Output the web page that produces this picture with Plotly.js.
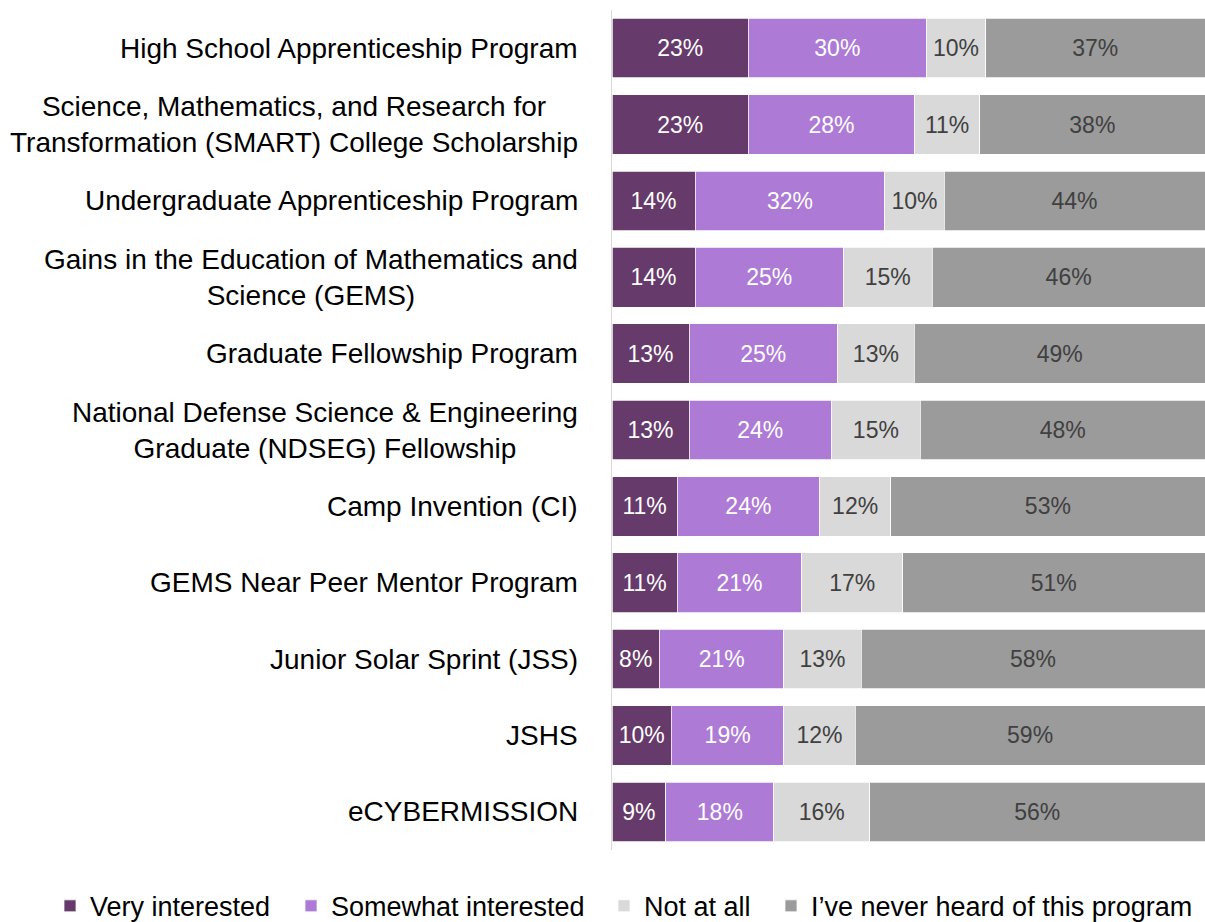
<!DOCTYPE html>
<html>
<head>
<meta charset="utf-8">
<script src="https://cdn.plot.ly/plotly-3.0.1.min.js"></script>
<style>html,body{margin:0;padding:0;background:#fff;}#chart{width:1205px;height:922px;}</style>
</head>
<body>
<div id="chart"></div>
<script>
const categories = [
  "High School Apprenticeship Program",
  "Science, Mathematics, and Research for<br>Transformation (SMART) College Scholarship",
  "Undergraduate Apprenticeship Program",
  "Gains in the Education of Mathematics and<br>Science (GEMS)",
  "Graduate Fellowship Program",
  "National Defense Science & Engineering<br>Graduate (NDSEG) Fellowship",
  "Camp Invention (CI)",
  "GEMS Near Peer Mentor Program",
  "Junior Solar Sprint (JSS)",
  "JSHS",
  "eCYBERMISSION"
];
const seriesNames = ["Very interested", "Somewhat interested", "Not at all", "I\u2019ve never heard of this program"];
const veryInterested     = [23, 23, 14, 14, 13, 13, 11, 11,  8, 10,  9];
const somewhatInterested = [30, 28, 32, 25, 25, 24, 24, 21, 21, 19, 18];
const notAtAll           = [10, 11, 10, 15, 13, 15, 12, 17, 13, 12, 16];
const neverHeard         = [37, 38, 44, 46, 49, 48, 53, 51, 58, 59, 56];
const colors = ["#663a6a", "#ad7ad6", "#d9d9d9", "#9b9b9b"];
const textColors = ["#ffffff", "#ffffff", "#404040", "#404040"];

const seriesValues = [veryInterested, somewhatInterested, notAtAll, neverHeard];
const FONT = "Liberation Sans, Arial, sans-serif";
const legendIds = ["legend", "legend2", "legend3", "legend4"];
const legendLeftPx = [50, 291, 604, 771];   // left edge of each legend entry in page pixels
const PLOT_L = 612, PLOT_W = 593;

const traces = seriesValues.map((vals, i) => ({
  type: "bar",
  orientation: "h",
  name: seriesNames[i],
  legend: legendIds[i],
  y: categories,
  x: vals,
  text: vals.map(v => v + "%"),
  texttemplate: "%{text}",
  textposition: "inside",
  insidetextanchor: "middle",
  textangle: 0,
  constraintext: "none",
  textfont: {family: FONT, size: 23, color: textColors[i]},
  marker: {color: colors[i], line: {color: "#ffffff", width: 0.75}},
  hoverinfo: "skip"
}));

const annotations = categories.map(c => ({
  xref: "paper", yref: "y",
  x: 0, y: c,
  xanchor: "right", yanchor: "middle",
  xshift: -32,
  text: c,
  align: "center",
  showarrow: false,
  font: {family: FONT, size: 28, color: "#000000"}
}));

const layout = {
  width: 1205, height: 922,
  margin: {l: 612, r: 0, t: 10, b: 72, autoexpand: false},
  paper_bgcolor: "#ffffff", plot_bgcolor: "#ffffff",
  barmode: "stack",
  barnorm: "percent",
  bargap: 0.22,
  showlegend: true,
  xaxis: {range: [0, 100], visible: false, fixedrange: true},
  yaxis: {
    type: "category",
    autorange: "reversed",
    showticklabels: false,
    ticks: "",
    showgrid: false,
    zeroline: false,
    showline: true,
    linecolor: "#d9d9d9",
    linewidth: 1.5,
    fixedrange: true
  },
  annotations: annotations,
  font: {family: FONT}
};

legendIds.forEach((id, i) => {
  layout[id] = {
    orientation: "h",
    xref: "paper", yref: "paper",
    x: (legendLeftPx[i] - PLOT_L) / PLOT_W, xanchor: "left",
    y: -0.067, yanchor: "middle",
    font: {family: FONT, size: 27, color: "#000000"},
    bgcolor: "rgba(0,0,0,0)",
    itemclick: false
  };
});

Plotly.newPlot("chart", traces, layout, {displayModeBar: false, staticPlot: true});
</script>
</body>
</html>
